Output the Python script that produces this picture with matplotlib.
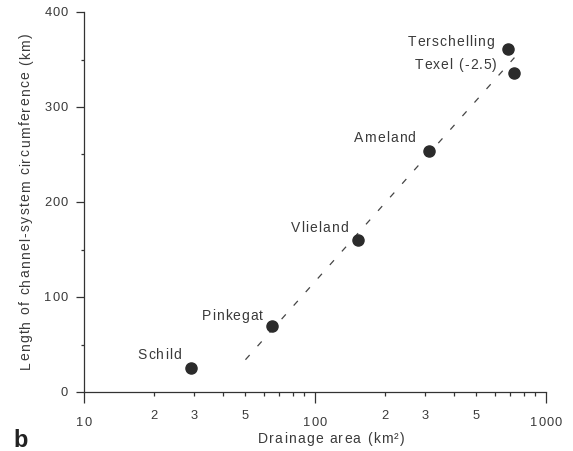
import matplotlib
matplotlib.use("Agg")
import matplotlib.pyplot as plt
import numpy as np
from matplotlib.ticker import FixedLocator, NullFormatter
from matplotlib.font_manager import FontProperties

names = ["Schild", "Pinkegat", "Vlieland", "Ameland", "Terschelling", "Texel (-2.5)"]
area = [29, 65, 153, 312, 684, 726]
length = [25, 69, 160, 254, 361, 336]
label_offsets = [(-10, -14), (-9, -11), (-10, -13), (-14, -13), (-14, -8), (-17, -9)]
fit_x = [50, 730]
fit_y = [34, 352]
xmajor = [10, 100, 1000]
xmajor_labels = ["10", "100", "1000"]
xminor = [20, 30, 40, 50, 60, 70, 80, 90, 200, 300, 400, 500, 600, 700, 800, 900]
xminor_labeled = [20, 30, 50, 200, 300, 500]
xminor_labels = ["2", "3", "5", "2", "3", "5"]
ymajor = [0, 100, 200, 300, 400]
ymajor_labels = ["0", "100", "200", "300", "400"]
yminor = [50, 150, 250, 350]

FAM = 'Liberation Sans'
TXT = '#3a3a3a'
W, H = 573, 451

fig = plt.figure(figsize=(W / 100, H / 100), dpi=100)
ax = fig.add_axes([84 / W, 59 / H, 462 / W, 380 / H])
ax.set_xscale('log')
ax.set_xlim(10, 1000)
ax.set_ylim(0, 400)

ax.plot(fit_x, fit_y, linestyle=(0, (5, 9.5)), color='#444444', lw=0.9)
ax.plot(area, length, 'o', color='#2b2b2b', markersize=8, zorder=3)

for s in ['top', 'right']:
    ax.spines[s].set_visible(False)
for s in ['left', 'bottom']:
    ax.spines[s].set_color('#333333')
    ax.spines[s].set_linewidth(0.9)

ax.xaxis.set_major_locator(FixedLocator(xmajor))
ax.xaxis.set_minor_locator(FixedLocator(xminor))
ax.xaxis.set_major_formatter(NullFormatter())
ax.xaxis.set_minor_formatter(NullFormatter())
ax.yaxis.set_major_locator(FixedLocator(ymajor))
ax.yaxis.set_minor_locator(FixedLocator(yminor))
ax.yaxis.set_major_formatter(NullFormatter())
ax.tick_params(axis='x', which='major', length=8, width=0.9, colors='#333333')
ax.tick_params(axis='x', which='minor', length=3, width=0.9, colors='#333333')
ax.tick_params(axis='y', which='major', length=6, width=0.9, colors='#333333')
ax.tick_params(axis='y', which='minor', length=2.5, width=0.9, colors='#333333')

renderer = fig.canvas.get_renderer()
_cache = {}


def adv(c, size, weight='normal'):
    key = (c, size, weight)
    if key not in _cache:
        prop = FontProperties(family=FAM, size=size, weight=weight)
        w1 = renderer.get_text_width_height_descent('|' + c + '|', prop, ismath=False)[0]
        w0 = renderer.get_text_width_height_descent('||', prop, ismath=False)[0]
        _cache[key] = w1 - w0
    return _cache[key]


def spaced(s, x, y, size, sp, ha='left', vcenter=True, rot=0, color=TXT, weight='normal'):
    """x, y in pixels with top-left origin; y is the vertical centre of caps (or baseline)."""
    widths = [adv(c, size, weight) for c in s]
    total = sum(widths) + sp * (len(s) - 1)
    start = {'left': 0, 'center': -total / 2, 'right': -total}[ha]
    cap = 0.69 * size * 100 / 72
    if rot == 0:
        base = y + cap / 2 if vcenter else y
        pos = x + start
        for c, w in zip(s, widths):
            fig.text(pos / W, 1 - base / H, c, ha='left', va='baseline', fontsize=size,
                     family=FAM, color=color, weight=weight)
            pos += w + sp
    else:
        base = x + cap / 2 if vcenter else x
        pos = y - start
        for c, w in zip(s, widths):
            fig.text(base / W, 1 - pos / H, c, ha='left', va='baseline', fontsize=size,
                     family=FAM, color=color, weight=weight, rotation=90,
                     rotation_mode='anchor')
            pos -= w + sp


def to_px(x, y):
    dx, dy = ax.transData.transform((x, y))
    return dx, H - dy


# point labels
for n, x, y, off in zip(names, area, length, label_offsets):
    px, py = to_px(x, y)
    spaced(n, px + off[0], py + off[1], 10, 1.0, ha='right')

# x tick labels
for v, lab in zip(xmajor, xmajor_labels):
    px, _ = to_px(v, 0)
    spaced(lab, px, 422, 9.3, 0.9, ha='center')
for v, lab in zip(xminor_labeled, xminor_labels):
    px, _ = to_px(v, 0)
    spaced(lab, px, 415, 9.3, 0.9, ha='center')

# y tick labels
for v, lab in zip(ymajor, ymajor_labels):
    _, py = to_px(10, v)
    spaced(lab, 68, py, 9.3, 0.9, ha='right')

# axis labels
spaced('Drainage area (km²)', 331, 438, 10, 1.2, ha='center')
spaced('Length of channel-system circumference (km)', 25, 201, 10, 1.25, ha='center', rot=90)

# panel letter
fig.text(13 / W, 1 - 447 / H, 'b', fontsize=17, fontweight='bold', color='#222222',
         family=FAM, ha='left', va='baseline')

fig.savefig('out.png', dpi=100)
